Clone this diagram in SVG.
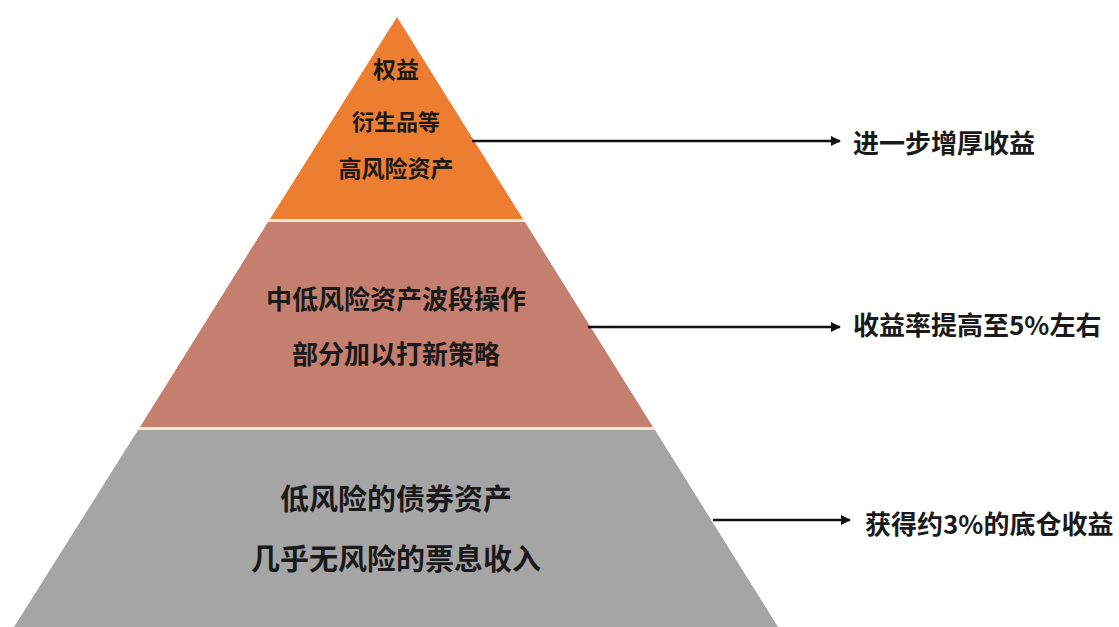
<svg xmlns="http://www.w3.org/2000/svg" width="1119" height="627" viewBox="0 0 1119 627">
<defs>
<style>
.t{font-family:"Noto Sans CJK SC","Noto Sans",sans-serif;font-weight:bold;fill:#1a1a1a;dominant-baseline:central}
.c{text-anchor:middle}
.a{stroke:#111;stroke-width:2.5;fill:none}
</style>
<marker id="ah" viewBox="0 0 10 10" refX="9" refY="5" markerWidth="4" markerHeight="4" orient="auto" markerUnits="strokeWidth">
<path d="M0,0 L10,5 L0,10 Z" fill="#111"/>
</marker>
</defs>
<rect width="1119" height="627" fill="#ffffff"/>
<g id="layer-top">
<polygon points="397,17 523,219 270,219" fill="#ED7D31"/>
<text class="t c" x="396" y="68" font-size="23">权益</text>
<text class="t c" x="396" y="120" font-size="22">衍生品等</text>
<text class="t c" x="396" y="167" font-size="23">高风险资产</text>
</g>
<g id="layer-middle">
<polygon points="268,222 525,222 653,427 140,427" fill="#C47F6E"/>
<text class="t c" x="396" y="297" font-size="26">中低风险资产波段操作</text>
<text class="t c" x="396" y="352" font-size="26">部分加以打新策略</text>
</g>
<g id="layer-bottom">
<polygon points="138,430 655,430 778,627 14,627" fill="#A5A5A5"/>
<text class="t c" x="396" y="497" font-size="29">低风险的债券资产</text>
<text class="t c" x="396" y="557" font-size="29">几乎无风险的票息收入</text>
</g>
<g id="separators" stroke="#F4E2C8" stroke-width="2.5">
<line x1="269" y1="220.5" x2="524" y2="220.5"/>
<line x1="139" y1="428.5" x2="654" y2="428.5"/>
</g>
<g id="connectors">
<line class="a" x1="472" y1="141" x2="840" y2="141" marker-end="url(#ah)"/>
<line class="a" x1="588" y1="327" x2="840" y2="327" marker-end="url(#ah)"/>
<line class="a" x1="713" y1="520" x2="850" y2="520" marker-end="url(#ah)"/>
</g>
<g id="label-1"><text class="t" x="853" y="141" font-size="26">进一步增厚收益</text></g>
<g id="label-2"><text class="t" x="853" y="323" font-size="26">收益率提高至5%左右</text></g>
<g id="label-3"><text class="t" x="865" y="522" font-size="26">获得约3%的底仓收益</text></g>
</svg>
